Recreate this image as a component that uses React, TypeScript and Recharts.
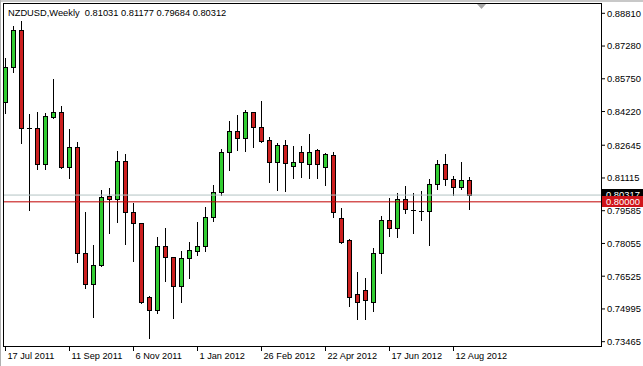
import React from "react";
import { ComposedChart, Bar, XAxis, YAxis, ReferenceLine } from "recharts";

const FONT = "'Liberation Sans', Arial, sans-serif";
const BULL = "#32cd32";
const BEAR = "#cc1f1f";

// weekly bars, NZDUSD
const weeks = [
  "17 Jul 2011", "24 Jul 2011", "31 Jul 2011", "7 Aug 2011", "14 Aug 2011", "21 Aug 2011", "28 Aug 2011", "4 Sep 2011",
  "11 Sep 2011", "18 Sep 2011", "25 Sep 2011", "2 Oct 2011", "9 Oct 2011", "16 Oct 2011", "23 Oct 2011", "30 Oct 2011",
  "6 Nov 2011", "13 Nov 2011", "20 Nov 2011", "27 Nov 2011", "4 Dec 2011", "11 Dec 2011", "18 Dec 2011", "25 Dec 2011",
  "1 Jan 2012", "8 Jan 2012", "15 Jan 2012", "22 Jan 2012", "29 Jan 2012", "5 Feb 2012", "12 Feb 2012", "19 Feb 2012",
  "26 Feb 2012", "4 Mar 2012", "11 Mar 2012", "18 Mar 2012", "25 Mar 2012", "1 Apr 2012", "8 Apr 2012", "15 Apr 2012",
  "22 Apr 2012", "29 Apr 2012", "6 May 2012", "13 May 2012", "20 May 2012", "27 May 2012", "3 Jun 2012", "10 Jun 2012",
  "17 Jun 2012", "24 Jun 2012", "1 Jul 2012", "8 Jul 2012", "15 Jul 2012", "22 Jul 2012", "29 Jul 2012", "5 Aug 2012",
  "12 Aug 2012", "19 Aug 2012", "26 Aug 2012",
];

const opens = [
  0.8468, 0.8632, 0.8803, 0.8347, 0.8347, 0.8176, 0.8398, 0.8421, 0.8165, 0.8258,
  0.7760, 0.7615, 0.7705, 0.8028, 0.8012, 0.8191, 0.7954, 0.7900, 0.7553, 0.7495,
  0.7794, 0.7741, 0.7609, 0.7737, 0.7768, 0.7794, 0.7928, 0.8045, 0.8232, 0.8333,
  0.8297, 0.8419, 0.8351, 0.8289, 0.8185, 0.8266, 0.8169, 0.8235, 0.8176, 0.8241,
  0.8165, 0.8219, 0.7924, 0.7822, 0.7569, 0.7587, 0.7531, 0.7760, 0.7914, 0.7877,
  0.8012, 0.7962, 0.7959, 0.7959, 0.8082, 0.8176, 0.8107, 0.8071, 0.81031,
];
const highs = [
  0.8671, 0.8823, 0.8846, 0.8409, 0.8421, 0.8414, 0.8574, 0.8448, 0.8341, 0.8281,
  0.7952, 0.7796, 0.8056, 0.8066, 0.8239, 0.8224, 0.7994, 0.7902, 0.7561, 0.7835,
  0.7880, 0.7744, 0.7771, 0.7810, 0.7905, 0.7978, 0.8079, 0.8247, 0.8378, 0.8406,
  0.8429, 0.8421, 0.8471, 0.8302, 0.8274, 0.8289, 0.8261, 0.8261, 0.8317, 0.8246,
  0.8230, 0.8235, 0.7973, 0.7824, 0.7674, 0.7643, 0.7783, 0.7936, 0.8017, 0.8040,
  0.8074, 0.8040, 0.8051, 0.8107, 0.8196, 0.8224, 0.8122, 0.8188, 0.81177,
];
const lows = [
  0.8414, 0.8608, 0.8274, 0.7962, 0.8154, 0.8154, 0.8393, 0.8160, 0.8113, 0.7718,
  0.7599, 0.7464, 0.7698, 0.7856, 0.7908, 0.7802, 0.7724, 0.7526, 0.7363, 0.7480,
  0.7631, 0.7457, 0.7534, 0.7646, 0.7752, 0.7771, 0.7911, 0.8032, 0.8149, 0.8243,
  0.8239, 0.8258, 0.8281, 0.8094, 0.8056, 0.8052, 0.8113, 0.8118, 0.8113, 0.8113,
  0.8079, 0.7931, 0.7807, 0.7515, 0.7452, 0.7453, 0.7492, 0.7667, 0.7842, 0.7835,
  0.7950, 0.7856, 0.7916, 0.7799, 0.8060, 0.8079, 0.8032, 0.8060, 0.79684,
];
const closes = [
  0.8632, 0.8803, 0.8347, 0.8347, 0.8176, 0.8403, 0.8421, 0.8165, 0.8258, 0.7760,
  0.7615, 0.7705, 0.8024, 0.8012, 0.8191, 0.7954, 0.7900, 0.7531, 0.7495, 0.7794,
  0.7741, 0.7609, 0.7737, 0.7776, 0.7794, 0.7928, 0.8045, 0.8232, 0.8333, 0.8297,
  0.8419, 0.8351, 0.8285, 0.8185, 0.8266, 0.8180, 0.8185, 0.8188, 0.8235, 0.8179,
  0.8222, 0.7952, 0.7814, 0.7555, 0.7531, 0.7542, 0.7760, 0.7914, 0.7877, 0.8012,
  0.7966, 0.7962, 0.7959, 0.8082, 0.8176, 0.8106, 0.8071, 0.8102, 0.80312,
];

const xTicks = [0, 8, 16, 24, 32, 40, 48, 56];
const yTicks = [0.8881, 0.8728, 0.8575, 0.8422, 0.82645, 0.81115, 0.79585, 0.78055, 0.76525, 0.74995, 0.73465];

const bidLevel = 0.80317;
const lineLevel = 0.8;

const rows = weeks.map((w, i) => ({
  idx: i,
  week: w,
  open: opens[i],
  high: highs[i],
  low: lows[i],
  close: closes[i],
}));

function Candle(props: any) {
  const { x, y, width, height, payload } = props;
  if (!payload || height == null) return null;
  const { open, high, low, close } = payload;
  const h = Math.abs(height);
  const top = Math.min(y, y + height);
  const k = high > low ? h / (high - low) : 0;
  const cx = Math.round(x + width / 2 - 0.5) + 0.5;
  const at = (v: number) => top + (high - v) * k;
  const bTop = Math.round(at(Math.max(open, close))) + 0.5;
  const bBot = Math.round(at(Math.min(open, close))) + 0.5;
  const fill = close > open ? BULL : BEAR;
  return (
    <g>
      <line x1={cx} x2={cx} y1={Math.round(top)} y2={Math.round(top + h) + 1} stroke="#000" strokeWidth={1} />
      {bBot - bTop >= 1 ? (
        <rect x={cx - 2} y={bTop} width={4} height={bBot - bTop} fill={fill} stroke="#000" strokeWidth={1} />
      ) : (
        <line x1={cx - 2.5} x2={cx + 2.5} y1={bTop} y2={bTop} stroke="#000" strokeWidth={1} />
      )}
    </g>
  );
}

function DateTick(props: any) {
  const { x, y, payload } = props;
  const px = Math.round(x - 0.5) + 0.5;
  return (
    <g>
      <line x1={px} x2={px} y1={y} y2={y + 4} stroke="#000" />
      <text x={px + 2} y={y + 12} fontSize={9.2} fontFamily={FONT} fill="#000" textAnchor="start">
        {weeks[payload.value]}
      </text>
    </g>
  );
}

const priceTag = (text: string, bg: string) => (p: any) => {
  const vb = p.viewBox || {};
  const x0 = (vb.x ?? 0) + (vb.width ?? 0);
  const cy = Math.round(vb.y ?? 0);
  return (
    <g>
      <rect x={x0} y={cy - 6} width={41} height={11} fill={bg} />
      <text x={x0 + 4} y={cy + 3} fontSize={9.4} fontFamily={FONT} fill="#fff">
        {text}
      </text>
    </g>
  );
};

export default function App() {
  return (
    <div style={{ position: "absolute", left: 0, top: 0, width: 643, height: 366, background: "#fff", overflow: "hidden" }}>
      <ComposedChart width={643} height={366} data={rows} margin={{ top: 3, right: 0, bottom: 0, left: 3 }}>
        <XAxis
          dataKey="idx"
          type="number"
          domain={[-0.3125, 74.5625]}
          allowDataOverflow
          ticks={xTicks}
          interval={0}
          tick={<DateTick />}
          tickLine={false}
          axisLine={false}
          tickSize={0}
          tickMargin={0}
          height={19}
        />
        <YAxis
          orientation="right"
          type="number"
          domain={[0.732165, 0.892913]}
          allowDataOverflow
          ticks={yTicks}
          interval={0}
          tickFormatter={(v: number) => v.toFixed(5)}
          width={41}
          axisLine={false}
          tickLine={{ stroke: "#000" }}
          tickSize={3}
          tickMargin={2}
          tick={{ fontSize: 9.4, fill: "#000", fontFamily: FONT }}
        />
        <Bar
          dataKey={(d: any) => [d.low, d.high]}
          shape={<Candle />}
          isAnimationActive={false}
        />
        <ReferenceLine y={bidLevel} stroke="#b3c3c3" strokeWidth={1} label={priceTag("0.80317", "#000")} />
        <ReferenceLine y={lineLevel} stroke="#c00000" strokeWidth={1} label={priceTag("0.80000", "#d0141a")} />
      </ComposedChart>

      <div
        style={{
          position: "absolute", left: 3, top: 3, width: 599, height: 344,
          boxSizing: "border-box", border: "1px solid #000", pointerEvents: "none",
        }}
      />
      <div
        style={{
          position: "absolute", left: 8, top: 7, fontFamily: FONT, fontSize: 9.3,
          lineHeight: "12px", color: "#000", whiteSpace: "pre",
        }}
      >
        {"NZDUSD,Weekly  0.81031 0.81177 0.79684 0.80312"}
      </div>
      <svg style={{ position: "absolute", left: 0, top: 0 }} width={643} height={366}>
        <rect x={0} y={0} width={643} height={2} fill="#c8c8c8" />
        <rect x={0} y={0} width={1} height={366} fill="#b0b0b0" />
        <polygon points="477,4 486,4 481.5,9" fill="#a6a6a6" />
      </svg>
    </div>
  );
}
